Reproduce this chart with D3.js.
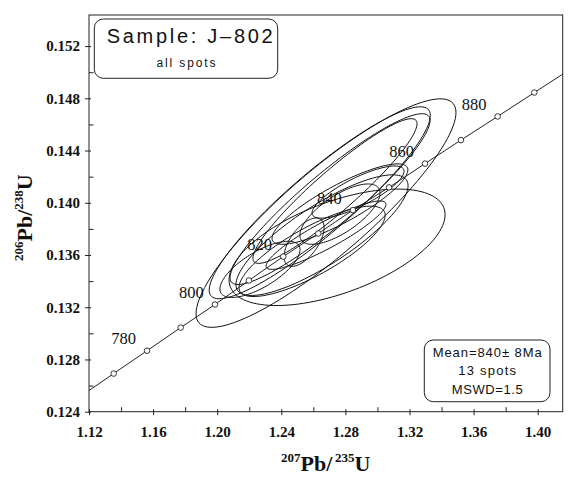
<!DOCTYPE html>
<html>
<head>
<meta charset="utf-8">
<script src="https://cdn.jsdelivr.net/npm/d3@7"></script>
<style>
  body { margin: 0; background: #fff; }
  svg { display: block; }
  .axis text { font-family: "Liberation Serif", "Times New Roman", serif; font-weight: bold; font-size: 15px; fill: #111; }
  .axis path, .axis line { stroke: #222; stroke-width: 1; }
  .frame { fill: none; stroke: #222; stroke-width: 1; }
  .spot { fill: none; stroke: #111; stroke-width: 1; }
  .concordia { fill: none; stroke: #222; stroke-width: 1; }
  .mark { fill: #fff; stroke: #222; stroke-width: 0.9; }
  .age-label { font-family: "Liberation Serif", "Times New Roman", serif; font-size: 16.5px; fill: #111; text-anchor: middle; }
  .box { fill: #fff; stroke: #222; stroke-width: 1; }
  .box-text { font-family: "Liberation Sans", Arial, sans-serif; fill: #111; }
  .axis-title { font-family: "Liberation Serif", "Times New Roman", serif; font-weight: bold; fill: #111; }
</style>
</head>
<body>
<svg id="chart"></svg>
<script>
// axis ticks
const xTicks = [1.12, 1.16, 1.20, 1.24, 1.28, 1.32, 1.36, 1.40];
const xMinorTicks = [1.14, 1.18, 1.22, 1.26, 1.30, 1.34, 1.38];
const yTicks = [0.124, 0.128, 0.132, 0.136, 0.140, 0.144, 0.148, 0.152];
const yMinorTicks = [0.126, 0.130, 0.134, 0.138, 0.142, 0.146, 0.150];

// concordia age marks (Ma) and where they sit on the plot
const markAges = [770, 780, 790, 800, 810, 820, 830, 840, 850, 860, 870, 880, 890];
const mark207 = [1.1354, 1.1562, 1.1772, 1.1986, 1.2198, 1.2412, 1.2631, 1.2847, 1.3072, 1.3297, 1.3521, 1.3750, 1.3979];
const mark206 = [0.12692, 0.12867, 0.13044, 0.13221, 0.13405, 0.13588, 0.13765, 0.13944, 0.14118, 0.14300, 0.14480, 0.14661, 0.14844];
const labelledAges = [780, 800, 820, 840, 860, 880];
// where the curve meets the frame
const curveEnd207 = [1.12, 1.4156];
const curveEnd206 = [0.12562, 0.14985];

// spot error ellipses: centre, half extent along each axis, correlation
const spot207 = [1.2679, 1.2640, 1.2704, 1.2735, 1.2748, 1.2592, 1.2654, 1.2879, 1.2766, 1.2542, 1.2267, 1.2766, 1.2679];
const spot206 = [0.13921, 0.14000, 0.14028, 0.14090, 0.13659, 0.13628, 0.13752, 0.14082, 0.13990, 0.13698, 0.13490, 0.13913, 0.13752];
const spotErr207 = [0.0811, 0.0690, 0.0624, 0.0512, 0.0674, 0.0456, 0.0537, 0.0287, 0.0424, 0.0125, 0.0250, 0.0250, 0.0374];
const spotErr206 = [0.00875, 0.00735, 0.00654, 0.00554, 0.00446, 0.00346, 0.00462, 0.00200, 0.00308, 0.00185, 0.00215, 0.00231, 0.00262];
const spotRho = [0.88, 0.91, 0.92, 0.93, 0.56, 0.80, 0.82, 0.80, 0.85, 0.60, 0.70, 0.70, 0.90];

const sampleName = "Sample:  J\u2013802";
const sampleNote = "all spots";
const resultLines = ["Mean=840\u00b1 8Ma", "13 spots", "MSWD=1.5"];

class ConcordiaChart {

  constructor(_config) {
    this.config = {
      parentElement: _config.parentElement,
      containerWidth: _config.containerWidth || 573,
      containerHeight: _config.containerHeight || 496,
      margin: { top: 15, bottom: 84.3, right: 10.3, left: 89 }
    };
    this.initVis();
  }

  initVis() {
    let vis = this;

    vis.width = vis.config.containerWidth - vis.config.margin.left - vis.config.margin.right;
    vis.height = vis.config.containerHeight - vis.config.margin.top - vis.config.margin.bottom;

    vis.svg = d3.select(vis.config.parentElement)
        .attr('width', vis.config.containerWidth)
        .attr('height', vis.config.containerHeight);

    vis.chart = vis.svg.append('g')
        .attr('transform', `translate(${vis.config.margin.left},${vis.config.margin.top})`);

    vis.xScale = d3.scaleLinear().domain([1.12, 1.4156]).range([0, vis.width]);
    vis.yScale = d3.scaleLinear().domain([0.124, 0.15438]).range([vis.height, 0]);

    vis.svg.append('defs').append('clipPath')
        .attr('id', 'plot-clip')
      .append('rect')
        .attr('width', vis.width)
        .attr('height', vis.height);

    vis.renderVis();
  }

  ellipsePoints(i) {
    let pts = [];
    let r = spotRho[i];
    let s = Math.sqrt(1 - r * r);
    for (let k = 0; k < 120; k++) {
      let t = k / 120 * 2 * Math.PI;
      pts.push([
        spot207[i] + spotErr207[i] * Math.cos(t),
        spot206[i] + spotErr206[i] * (r * Math.cos(t) + s * Math.sin(t))
      ]);
    }
    return pts;
  }

  renderVis() {
    let vis = this;

    // axes: major ticks cross the frame, minor ticks point inwards
    vis.chart.append('g')
        .attr('class', 'axis x-axis')
        .attr('transform', `translate(0,${vis.height})`)
        .call(d3.axisBottom(vis.xScale).tickValues(xTicks).tickFormat(d3.format('.2f'))
          .tickSizeInner(3.5).tickSizeOuter(0).tickPadding(11))
        .call(g => g.select('.domain').remove());
    vis.chart.append('g')
        .attr('class', 'axis x-axis')
        .attr('transform', `translate(0,${vis.height})`)
        .call(d3.axisBottom(vis.xScale).tickValues(xTicks).tickFormat('').tickSizeInner(-2.5).tickSizeOuter(0))
        .call(g => g.select('.domain').remove());
    vis.chart.append('g')
        .attr('class', 'axis x-axis')
        .attr('transform', `translate(0,${vis.height})`)
        .call(d3.axisBottom(vis.xScale).tickValues(xMinorTicks).tickFormat('').tickSizeInner(-4.5).tickSizeOuter(0))
        .call(g => g.select('.domain').remove());

    vis.chart.append('g')
        .attr('class', 'axis y-axis')
        .call(d3.axisLeft(vis.yScale).tickValues(yTicks).tickFormat(d3.format('.3f'))
          .tickSizeInner(4).tickSizeOuter(0).tickPadding(5))
        .call(g => g.select('.domain').remove());
    vis.chart.append('g')
        .attr('class', 'axis y-axis')
        .call(d3.axisLeft(vis.yScale).tickValues(yTicks).tickFormat('').tickSizeInner(-2).tickSizeOuter(0))
        .call(g => g.select('.domain').remove());
    vis.chart.append('g')
        .attr('class', 'axis y-axis')
        .call(d3.axisLeft(vis.yScale).tickValues(yMinorTicks).tickFormat('').tickSizeInner(-4.5).tickSizeOuter(0))
        .call(g => g.select('.domain').remove());

    vis.chart.append('rect')
        .attr('class', 'frame')
        .attr('width', vis.width)
        .attr('height', vis.height);

    let plot = vis.chart.append('g').attr('clip-path', 'url(#plot-clip)');

    // error ellipses
    let ellipseLine = d3.line()
        .x(d => vis.xScale(d[0]))
        .y(d => vis.yScale(d[1]))
        .curve(d3.curveLinearClosed);

    plot.selectAll('.spot')
        .data(d3.range(spot207.length))
        .join('path')
        .attr('class', 'spot')
        .attr('d', i => ellipseLine(vis.ellipsePoints(i)));

    // concordia curve
    let curvePts = [[curveEnd207[0], curveEnd206[0]]]
        .concat(markAges.map((a, i) => [mark207[i], mark206[i]]))
        .concat([[curveEnd207[1], curveEnd206[1]]]);

    plot.append('path')
        .attr('class', 'concordia')
        .attr('d', d3.line()
          .x(d => vis.xScale(d[0]))
          .y(d => vis.yScale(d[1]))
          .curve(d3.curveMonotoneX)(curvePts));

    plot.selectAll('.mark')
        .data(markAges.map((a, i) => ({ age: a, x: mark207[i], y: mark206[i] })))
        .join('circle')
        .attr('class', 'mark')
        .attr('cx', d => vis.xScale(d.x))
        .attr('cy', d => vis.yScale(d.y))
        .attr('r', 2.8);

    plot.selectAll('.age-label')
        .data(markAges.map((a, i) => ({ age: a, x: mark207[i], y: mark206[i] }))
          .filter(d => labelledAges.includes(d.age)))
        .join('text')
        .attr('class', 'age-label')
        .attr('x', d => vis.xScale(d.x) - 23.5)
        .attr('y', d => vis.yScale(d.y) - 6.5)
        .text(d => d.age);

    // sample box (top left)
    vis.svg.append('rect')
        .attr('class', 'box')
        .attr('x', 94.3).attr('y', 19)
        .attr('width', 183.4).attr('height', 59.3)
        .attr('rx', 9).attr('ry', 9);
    vis.svg.append('text')
        .attr('class', 'box-text')
        .attr('x', 106.7).attr('y', 43)
        .attr('font-size', 20)
        .attr('textLength', 166)
        .attr('lengthAdjust', 'spacing')
        .text(sampleName);
    vis.svg.append('text')
        .attr('class', 'box-text')
        .attr('x', 186).attr('y', 66.7)
        .attr('font-size', 12)
        .attr('text-anchor', 'middle')
        .attr('textLength', 59)
        .attr('lengthAdjust', 'spacing')
        .text(sampleNote);

    // result box (bottom right)
    vis.svg.append('rect')
        .attr('class', 'box')
        .attr('x', 424.3).attr('y', 340)
        .attr('width', 125.7).attr('height', 61.7)
        .attr('rx', 9).attr('ry', 9);
    let lineY = [357.3, 375.3, 394];
    let lineW = [109, 57.7, 71];
    vis.svg.selectAll('.result-line')
        .data(resultLines)
        .join('text')
        .attr('class', 'box-text result-line')
        .attr('x', 487.2)
        .attr('y', (d, i) => lineY[i])
        .attr('font-size', 13)
        .attr('text-anchor', 'middle')
        .attr('textLength', (d, i) => lineW[i])
        .attr('lengthAdjust', 'spacing')
        .text(d => d);

    // axis titles
    let xt = vis.svg.append('text')
        .attr('class', 'axis-title')
        .attr('x', 281).attr('y', 470.7);
    xt.append('tspan').attr('font-size', 13).attr('dy', -9).text('207');
    xt.append('tspan').attr('font-size', 22).attr('dy', 9).text('Pb/');
    xt.append('tspan').attr('font-size', 13).attr('dy', -9).text('\u2009235');
    xt.append('tspan').attr('font-size', 22).attr('dy', 9).text('U');

    let yt = vis.svg.append('text')
        .attr('class', 'axis-title')
        .attr('transform', 'translate(32,261) rotate(-90)');
    yt.append('tspan').attr('font-size', 13).attr('dy', -9).text('206');
    yt.append('tspan').attr('font-size', 22).attr('dy', 9).text('Pb/');
    yt.append('tspan').attr('font-size', 13).attr('dy', -9).text('238');
    yt.append('tspan').attr('font-size', 22).attr('dy', 9).text('U');
  }
}

new ConcordiaChart({ parentElement: '#chart' });
</script>
</body>
</html>
